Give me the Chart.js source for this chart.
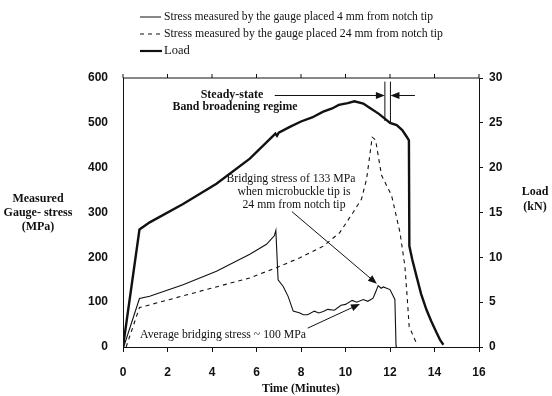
<!DOCTYPE html>
<html lang="en">
<head>
<meta charset="UTF-8" />
<title>Gauge stress and load vs time</title>
<script src="https://cdn.jsdelivr.net/npm/chart.js"></script>
<style>
  html, body { margin: 0; padding: 0; background: #fff; }
</style>
</head>
<body>
<canvas id="stressChart" width="552" height="396"></canvas>
<script>
// time axis (minutes) and tick values
const timeTicks = [0, 2, 4, 6, 8, 10, 12, 14, 16];
const stressTicks = [0, 100, 200, 300, 400, 500, 600];
const loadTicks = [0, 5, 10, 15, 20, 25, 30];

// load (kN) vs time
const loadTime = [0, 0.74, 1.2, 2.7, 4.2, 5.7, 6.85, 6.92, 7.0, 7.5, 8.0, 8.5, 9.0, 9.4, 9.7, 10.1, 10.4, 10.8, 11.1, 11.5, 11.85, 12.0, 12.3, 12.55, 12.75, 12.85, 12.87, 13.0, 13.19, 13.4, 13.64, 13.85, 14.1, 14.25, 14.4];
const loadKN =   [0, 13.1, 13.9, 15.95, 18.2, 21.0, 23.8, 23.55, 23.9, 24.55, 25.15, 25.6, 26.25, 26.6, 27.0, 27.2, 27.4, 27.15, 26.65, 26.0, 25.3, 25.0, 24.75, 24.2, 23.45, 23.05, 11.25, 9.75, 7.9, 5.9, 4.15, 2.9, 1.55, 0.8, 0.25];

// gauge 4 mm from notch tip (MPa)
const gauge4Time =   [0.03, 0.74, 1.2, 2.7, 4.2, 5.7, 6.45, 6.8, 6.87, 6.97, 7.2, 7.42, 7.65, 7.95, 8.1, 8.3, 8.6, 8.8, 9.0, 9.2, 9.5, 9.8, 10.0, 10.3, 10.5, 10.8, 11.0, 11.24, 11.35, 11.47, 11.6, 11.7, 12.0, 12.22, 12.27, 12.28];
const gauge4Stress = [0, 108, 113, 139, 169, 207, 229, 248, 260, 150, 135, 113, 80, 76, 72, 72, 80, 76, 79, 84, 82, 93, 95, 104, 100, 106, 102, 109, 122, 137, 131, 134, 128, 106, 4, 0];

// gauge 24 mm from notch tip (MPa)
const gauge24Time =   [0.14, 0.74, 1.2, 3.44, 5.69, 6.9, 7.95, 9.0, 9.74, 10.34, 10.72, 10.95, 11.2, 11.35, 11.62, 12.07, 12.2, 12.45, 12.67, 12.78, 12.86, 13.12, 13.2];
const gauge24Stress = [0, 88, 94, 124, 154, 177, 199, 225, 255, 300, 330, 375, 468, 462, 383, 338, 310, 255, 180, 106, 46, 16, 8];

const legendLabels = [
  'Stress measured by the gauge placed 4 mm from notch tip',
  'Stress measured by the gauge placed 24 mm from notch tip',
  'Load'
];

const toPoints = (xs, ys) => xs.map((t, i) => ({ x: t, y: ys[i] }));

const serif = '"Liberation Serif", "DejaVu Serif", serif';
const sans = '"Liberation Sans", Arial, sans-serif';

function drawArrow(ctx, x1, y1, x2, y2) {
  const a = Math.atan2(y2 - y1, x2 - x1);
  const len = 9, w = 3.5;
  ctx.beginPath();
  ctx.moveTo(x1, y1);
  ctx.lineTo(x2 - Math.cos(a) * len * 0.8, y2 - Math.sin(a) * len * 0.8);
  ctx.stroke();
  ctx.beginPath();
  ctx.moveTo(x2, y2);
  ctx.lineTo(x2 - Math.cos(a) * len - Math.sin(a) * w, y2 - Math.sin(a) * len + Math.cos(a) * w);
  ctx.lineTo(x2 - Math.cos(a) * len + Math.sin(a) * w, y2 - Math.sin(a) * len - Math.cos(a) * w);
  ctx.closePath();
  ctx.fill();
}

function text(ctx, s, x, y, font, align, maxW) {
  ctx.font = font;
  ctx.textAlign = align || 'left';
  ctx.textBaseline = 'middle';
  if (maxW) ctx.fillText(s, x, y, maxW); else ctx.fillText(s, x, y);
}

// annotations, legend, titles and the top frame line
const overlay = {
  id: 'overlay',
  afterDraw(chart) {
    const ctx = chart.ctx;
    const xs = chart.scales.x, ys = chart.scales.y;
    const area = chart.chartArea;
    const px = v => xs.getPixelForValue(v);
    const py = v => ys.getPixelForValue(v);
    ctx.save();
    ctx.fillStyle = '#111';
    ctx.strokeStyle = '#111';

    // top frame with small ticks
    ctx.lineWidth = 1;
    ctx.beginPath();
    ctx.moveTo(area.left, area.top);
    ctx.lineTo(area.right, area.top);
    timeTicks.forEach(t => {
      ctx.moveTo(px(t), area.top);
      ctx.lineTo(px(t), area.top - 4);
    });
    ctx.stroke();

    // legend
    const legY = [17, 34, 51];
    ctx.lineWidth = 1;
    ctx.beginPath(); ctx.moveTo(140, legY[0]); ctx.lineTo(161, legY[0]); ctx.stroke();
    ctx.setLineDash([4, 4]);
    ctx.beginPath(); ctx.moveTo(140, legY[1]); ctx.lineTo(161, legY[1]); ctx.stroke();
    ctx.setLineDash([]);
    ctx.lineWidth = 2.2;
    ctx.beginPath(); ctx.moveTo(140, legY[2]); ctx.lineTo(162, legY[2]); ctx.stroke();
    text(ctx, legendLabels[0], 164, legY[0], '12.5px ' + serif, 'left', 269);
    text(ctx, legendLabels[1], 164, legY[1], '12.5px ' + serif, 'left', 279);
    text(ctx, legendLabels[2], 164, legY[2], '12.5px ' + serif, 'left', 29);

    // axis titles
    const bold = 'bold 12px ' + serif;
    text(ctx, 'Measured', 38, 199, bold, 'center');
    text(ctx, 'Gauge- stress', 38, 213, bold, 'center');
    text(ctx, '(MPa)', 38, 227, bold, 'center');
    text(ctx, 'Load', 535, 192, bold, 'center');
    text(ctx, '(kN)', 535, 207, bold, 'center');
    text(ctx, 'Time (Minutes)', 301, 389, bold, 'center', 78);

    // steady-state band broadening bracket
    text(ctx, 'Steady-state', 232, 95, bold, 'center', 64);
    text(ctx, 'Band broadening regime', 235, 107, bold, 'center', 125);
    ctx.lineWidth = 1;
    ctx.beginPath();
    ctx.moveTo(px(11.77), py(592)); ctx.lineTo(px(11.77), py(504));
    ctx.moveTo(px(12.02), py(592)); ctx.lineTo(px(12.02), py(500));
    ctx.stroke();
    drawArrow(ctx, px(6.82), py(561), px(11.77), py(561));
    drawArrow(ctx, px(13.12), py(561), px(12.02), py(561));

    // bridging stress note
    const note = '13px ' + serif;
    text(ctx, 'Bridging stress of 133 MPa', 291, 179, note, 'center', 129);
    text(ctx, 'when microbuckle tip is', 294, 192, note, 'center', 113);
    text(ctx, '24 mm from notch tip', 294, 205, note, 'center', 103);
    drawArrow(ctx, px(7.59), py(302), px(11.41), py(141));

    // average bridging stress note
    text(ctx, 'Average bridging stress ~ 100 MPa', 140, 335, note, 'left', 166);
    drawArrow(ctx, px(8.3), py(42), px(10.65), py(96));

    ctx.restore();
  }
};

const ctx = document.getElementById('stressChart').getContext('2d');
new Chart(ctx, {
  type: 'line',
  data: {
    datasets: [
      {
        label: legendLabels[0],
        data: toPoints(gauge4Time, gauge4Stress),
        borderColor: '#111',
        borderWidth: 1.1,
        pointRadius: 0,
        yAxisID: 'y'
      },
      {
        label: legendLabels[1],
        data: toPoints(gauge24Time, gauge24Stress),
        borderColor: '#111',
        borderWidth: 1.1,
        borderDash: [4, 4],
        pointRadius: 0,
        yAxisID: 'y'
      },
      {
        label: legendLabels[2],
        data: toPoints(loadTime, loadKN),
        borderColor: '#111',
        borderWidth: 2.4,
        pointRadius: 0,
        yAxisID: 'y1'
      }
    ]
  },
  options: {
    responsive: false,
    animation: false,
    devicePixelRatio: 1,
    layout: { padding: { top: 78, left: 0, right: 0, bottom: 0 } },
    plugins: { legend: { display: false }, tooltip: { enabled: false } },
    scales: {
      x: {
        type: 'linear',
        min: 0, max: 16,
        afterBuildTicks: s => { s.ticks = timeTicks.map(v => ({ value: v })); },
        afterFit: s => { s.height = 49; },
        grid: { drawOnChartArea: false, drawTicks: true, tickLength: 5, color: '#111' },
        border: { display: true, color: '#111', width: 1 },
        ticks: { color: '#111', font: { family: sans, size: 12, weight: 'bold' }, padding: 13, maxRotation: 0 }
      },
      y: {
        position: 'left',
        min: 0, max: 600,
        afterBuildTicks: s => { s.ticks = stressTicks.map(v => ({ value: v })); },
        afterFit: s => { s.width = 123; },
        grid: { drawOnChartArea: false, drawTicks: false },
        border: { display: true, color: '#111', width: 1 },
        ticks: { color: '#111', font: { family: sans, size: 12, weight: 'bold' }, padding: 15 }
      },
      y1: {
        position: 'right',
        min: 0, max: 30,
        afterBuildTicks: s => { s.ticks = loadTicks.map(v => ({ value: v })); },
        afterFit: s => { s.width = 73; },
        grid: { drawOnChartArea: false, drawTicks: true, tickLength: 4, color: '#111' },
        border: { display: true, color: '#111', width: 1 },
        ticks: { color: '#111', font: { family: sans, size: 12, weight: 'bold' }, padding: 6 }
      }
    }
  },
  plugins: [overlay]
});
</script>
</body>
</html>
